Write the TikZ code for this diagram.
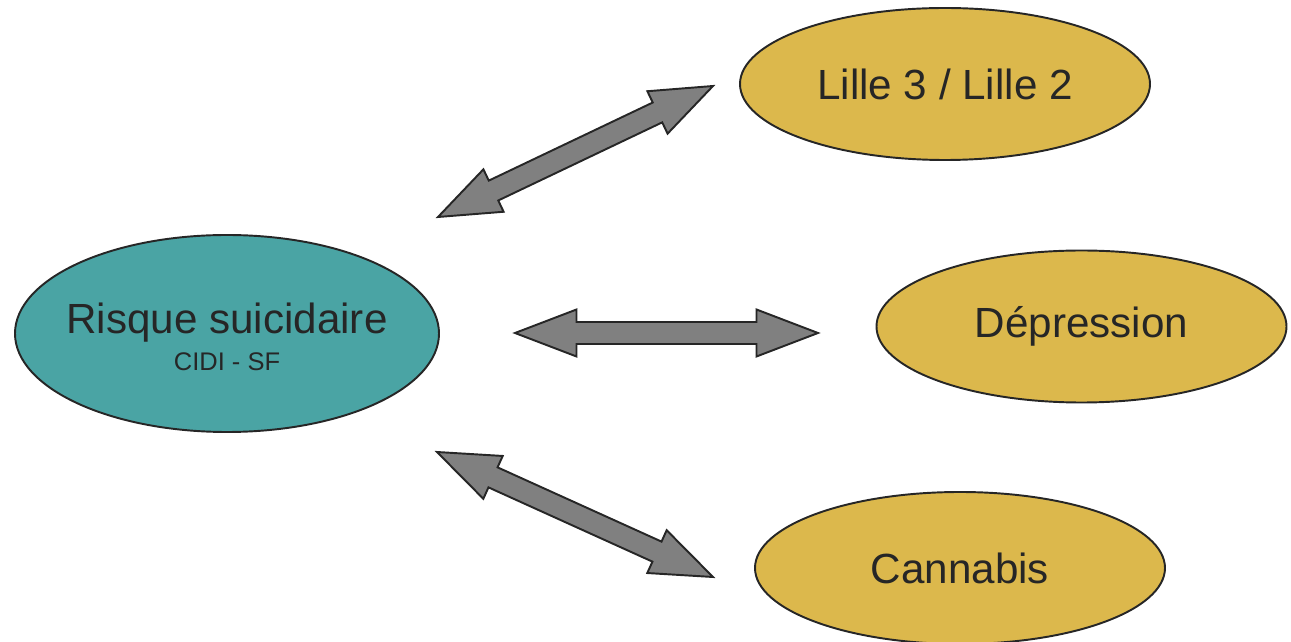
\documentclass[tikz,border=0pt]{standalone}
\usepackage{fontspec}
\setmainfont{Liberation Sans}
\usetikzlibrary{shapes.geometric,calc}

\definecolor{riskteal}{HTML}{4AA4A4}
\definecolor{factoryellow}{HTML}{DCB84C}
\definecolor{arrowgray}{HTML}{808080}
\definecolor{inkgray}{HTML}{262626}

\tikzset{
  bubble/.style={draw=inkgray, line width=1.1pt, ellipse, inner sep=0pt,
    text=inkgray, font=\fontsize{24}{28}\selectfont},
  riskbubble/.style={bubble, fill=riskteal, minimum width=8.48cm, minimum height=3.94cm},
  factorbubble/.style={bubble, fill=factoryellow, minimum width=8.2cm, minimum height=3.04cm},
  bigarrow/.style={draw=inkgray, fill=arrowgray, line width=1.1pt, line join=miter},
}

% fat two-headed arrow between two named coordinates
\newcommand{\twoway}[2]{%
  \coordinate (#1h) at ($(#1)!1.23cm!(#2)$);
  \coordinate (#2h) at ($(#2)!1.23cm!(#1)$);
  \draw[bigarrow] (#1)
    -- ($(#1h)!0.47cm!90:(#2)$) -- ($(#1h)!0.22cm!90:(#2)$)
    -- ($(#2h)!0.22cm!-90:(#1)$) -- ($(#2h)!0.47cm!-90:(#1)$)
    -- (#2)
    -- ($(#2h)!0.47cm!90:(#1)$) -- ($(#2h)!0.22cm!90:(#1)$)
    -- ($(#1h)!0.22cm!-90:(#2)$) -- ($(#1h)!0.47cm!-90:(#2)$)
    -- cycle;
}

\begin{document}
\begin{tikzpicture}
\useasboundingbox (0,0) rectangle (25.82,12.84);

\node[riskbubble] (risk) at (4.54,6.17) {};
\node[text=inkgray, align=center, inner sep=0pt, font=\fontsize{24}{21}\selectfont]
  (risktext) at (4.54,6.10)
  {Risque suicidaire\\{\fontsize{14.5}{21}\selectfont CIDI - SF}};

\node[factorbubble] (lille) at (18.9,11.16) {Lille 3 / Lille 2};
\node[factorbubble] (depr) at (21.63,6.31) {Dépression};
\node[factorbubble] (cannabis) at (19.2,1.48) {Cannabis};

% arrow ends
\coordinate (upL) at (8.76,8.50);
\coordinate (upR) at (14.26,11.12);
\coordinate (midL) at (10.30,6.18);
\coordinate (midR) at (16.36,6.18);
\coordinate (lowL) at (8.74,3.80);
\coordinate (lowR) at (14.26,1.30);

\twoway{upL}{upR}
\twoway{midL}{midR}
\twoway{lowL}{lowR}
\end{tikzpicture}
\end{document}
